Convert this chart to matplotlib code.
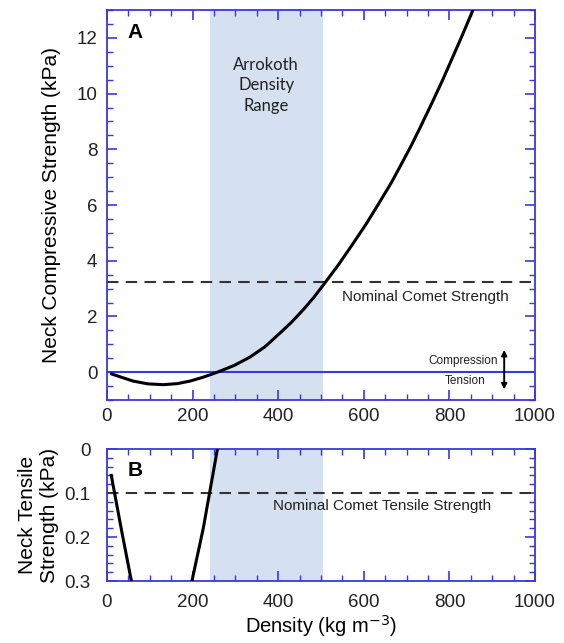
import numpy as np
from matplotlib import pyplot as plt
from matplotlib.ticker import MultipleLocator

# values
density = [10, 35, 61, 95, 132, 165, 194, 225, 258, 297, 334, 369, 404, 431,
           459, 483, 507, 541, 575, 606, 638, 665, 692, 711, 731, 760, 784,
           808, 830, 855]
strength = [-0.06, -0.19, -0.32, -0.42, -0.45, -0.41, -0.32, -0.18, 0.0, 0.24,
            0.54, 0.91, 1.4, 1.79, 2.25, 2.68, 3.16, 3.86, 4.62, 5.33, 6.13,
            6.82, 7.59, 8.14, 8.76, 9.69, 10.48, 11.32, 12.09, 13.0]
arrokoth_range = [240, 505]
comet_strength = 3.25
comet_tensile = 0.1

blue = '#3838e0'
shade = '#d5e0f0'
text_col = '#222222'

plt.rcParams['font.family'] = ['Liberation Sans', 'DejaVu Sans']

fig = plt.figure(figsize=(5.64, 6.43), dpi=100)
ax_a = fig.add_axes([0.1897, 0.3779, 0.7589, 0.6065])
ax_b = fig.add_axes([0.1897, 0.0964, 0.7589, 0.2053])


def style(ax, ypad, xpad):
    for s in ax.spines.values():
        s.set_color(blue)
        s.set_linewidth(1.3)
    ax.tick_params(which='both', direction='in', top=True, right=True,
                   color=blue, labelsize=13.5, labelcolor=text_col)
    ax.tick_params(which='major', length=7, width=1.2)
    ax.tick_params(which='minor', length=4, width=1.0)
    ax.tick_params(axis='y', pad=ypad)
    ax.tick_params(axis='x', pad=xpad)
    ax.set_xlim(0, 1000)
    ax.xaxis.set_major_locator(MultipleLocator(200))
    ax.xaxis.set_minor_locator(MultipleLocator(50))
    ax.axvspan(*arrokoth_range, color=shade, lw=0, zorder=0)


# panel A
style(ax_a, 7, 6)
ax_a.set_ylim(-1, 13)
ax_a.yaxis.set_major_locator(MultipleLocator(2))
ax_a.yaxis.set_minor_locator(MultipleLocator(0.5))
ax_a.axhline(0, color=blue, lw=1.5, zorder=2)
ax_a.axhline(comet_strength, color='#333333', lw=1.5, dashes=(5.5, 3.5), zorder=2)
ax_a.plot(density, strength, color='black', lw=2.2, zorder=3,
          solid_capstyle='round', solid_joinstyle='round')
ax_a.set_ylabel('Neck Compressive Strength (kPa)', fontsize=15, labelpad=11)
ax_a.text(65, 12.2, 'A', fontsize=15, fontweight='bold', ha='center', va='center')
ax_a.text(372, 10.3, 'Arrokoth\nDensity\nRange', fontsize=12, ha='center',
          va='center', linespacing=1.35, family=['Lato', 'DejaVu Sans'],
          color=text_col)
ax_a.text(745, 2.7, 'Nominal Comet Strength', fontsize=11, ha='center',
          va='center', color=text_col)
ax_a.text(913, 0.4, 'Compression', fontsize=8.5, ha='right', va='center',
          color=text_col)
ax_a.text(836, -0.32, 'Tension', fontsize=8.5, ha='center', va='center',
          color=text_col)
ax_a.annotate('', xy=(928, 0.8), xytext=(928, -0.62),
              arrowprops=dict(arrowstyle='<|-|>', color='black', lw=1.4,
                              mutation_scale=8, shrinkA=0, shrinkB=0))

# panel B: tension shown as positive downward
tensile = [-s for s in strength]
style(ax_b, 12, 9)
ax_b.set_ylim(0.3, 0)
ax_b.yaxis.set_major_locator(MultipleLocator(0.1))
ax_b.yaxis.set_minor_locator(MultipleLocator(0.02))
ax_b.yaxis.set_major_formatter(plt.FuncFormatter(lambda v, p: '0' if v == 0 else f'{v:.1f}'))
ax_b.axhline(comet_tensile, color='#333333', lw=1.5, dashes=(5.5, 3.5), zorder=2)
ax_b.plot(density, tensile, color='black', lw=2.2, zorder=3,
          solid_joinstyle='round')
ax_b.set_ylabel('Neck Tensile\nStrength (kPa)', fontsize=15, labelpad=4,
                linespacing=1.15)
ax_b.set_xlabel('Density (kg m$^{-3}$)', fontsize=14.5, labelpad=2)
ax_b.text(65, 0.048, 'B', fontsize=15, fontweight='bold', ha='center', va='center')
ax_b.text(643, 0.13, 'Nominal Comet Tensile Strength', fontsize=11,
          ha='center', va='center', color=text_col)

fig.savefig('out.png', dpi=100)
